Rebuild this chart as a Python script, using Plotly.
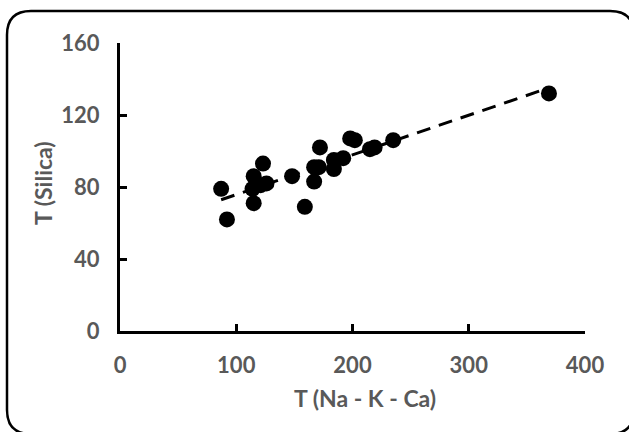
import numpy as np
import plotly.graph_objects as go

# Data
t_nakca = [87, 92, 115, 114, 115, 123, 121, 126, 148, 159, 167, 167, 171, 172,
           184, 184, 192, 198, 202, 215, 219, 235, 369]
t_silica = [79, 62, 86, 79, 71, 93, 81, 82, 86, 69, 83, 91, 91, 102,
            95, 90, 96, 107, 106, 101, 102, 106, 132]
x_ticks = [0, 100, 200, 300, 400]
y_ticks = [0, 40, 80, 120, 160]
x_title = "T (Na - K - Ca)"
y_title = "T (Silica)"

W, H = 629, 432
L, R, T, B = 120, 44, 43, 101
pw, ph = W - L - R, H - T - B

def px(x):  # window pixel -> paper
    return (x - L) / pw

def py(y):
    return (H - B - y) / ph

# linear trend line
slope, intercept = np.polyfit(t_nakca, t_silica, 1)
tx = [min(t_nakca), max(t_nakca)]
ty = [slope * v + intercept for v in tx]

grey = "#595959"
fnt = "Lato, Calibri, 'Open Sans', sans-serif"

fig = go.Figure()
fig.add_trace(go.Scatter(x=tx, y=ty, mode="lines",
                         line=dict(color="black", width=3, dash="14px,9px"),
                         hoverinfo="skip", showlegend=False))
fig.add_trace(go.Scatter(x=t_nakca, y=t_silica, mode="markers",
                         marker=dict(color="black", size=16),
                         showlegend=False))

axis_common = dict(showgrid=False, zeroline=False, showline=True,
                   linecolor="black", linewidth=3, ticks="inside",
                   ticklen=7, tickwidth=2.5, tickcolor="black",
                   tickfont=dict(family=fnt, size=22, color=grey, weight="bold"))
fig.update_xaxes(range=[0, 400], tickvals=x_ticks, ticktext=[str(v) for v in x_ticks],
                 ticklabelstandoff=13, **axis_common)
fig.update_yaxes(range=[0, 160], tickvals=y_ticks, ticktext=[str(v) for v in y_ticks],
                 ticklabelstandoff=13, **axis_common)

# rounded frame (window pixel coords)
x0, x1, y0, y1, r = 7, 634, 11, 434, 24
path = (f"M {px(x0)},{py(y0 + r)} Q {px(x0)},{py(y0)} {px(x0 + r)},{py(y0)} "
        f"L {px(x1 - r)},{py(y0)} Q {px(x1)},{py(y0)} {px(x1)},{py(y0 + r)} "
        f"L {px(x1)},{py(y1 - r)} Q {px(x1)},{py(y1)} {px(x1 - r)},{py(y1)} "
        f"L {px(x0 + r)},{py(y1)} Q {px(x0)},{py(y1)} {px(x0)},{py(y1 - r)} Z")
fig.add_shape(type="path", path=path, xref="paper", yref="paper",
              line=dict(color="black", width=2.5), layer="below")

fig.add_annotation(text=x_title, x=px(365), y=py(398), xref="paper", yref="paper",
                   showarrow=False, xanchor="center", yanchor="middle",
                   font=dict(family=fnt, size=23, color=grey, weight="bold"))
fig.add_annotation(text=y_title, x=px(43), y=py(183), xref="paper", yref="paper",
                   showarrow=False, xanchor="center", yanchor="middle", textangle=-90,
                   font=dict(family=fnt, size=23, color=grey, weight="bold"))

fig.update_layout(width=W, height=H, margin=dict(l=L, r=R, t=T, b=B),
                  paper_bgcolor="white", plot_bgcolor="white")

post = ("document.body.style.margin='0';"
        "document.body.style.overflow='hidden';"
        "document.documentElement.style.overflow='hidden';")
fig.write_html("out.html", post_script=post, config={"displayModeBar": False})
